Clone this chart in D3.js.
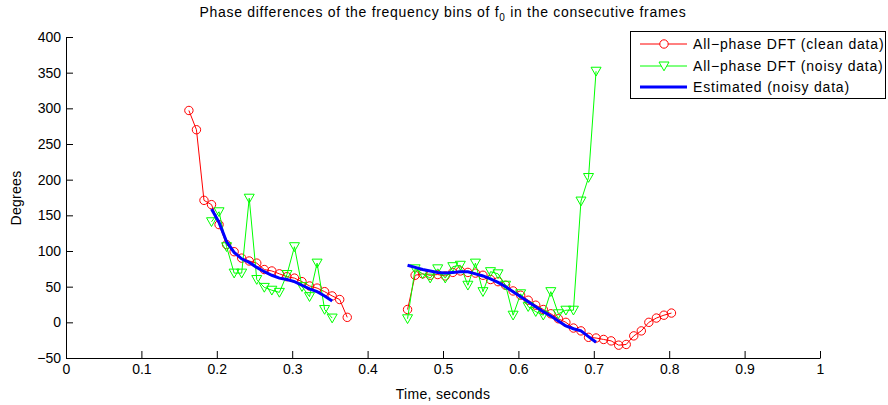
<!DOCTYPE html>
<html>
<head>
<meta charset="utf-8">
<script src="https://cdn.jsdelivr.net/npm/d3@7"></script>
<style>
  body { margin: 0; background: #fff; }
  text { font-family: "Liberation Sans", Arial, Helvetica, sans-serif; }
</style>
</head>
<body>
<div class="chart"></div>
<script>
// frame times (seconds)
let times = [
  0.163, 0.173, 0.183, 0.193, 0.203, 0.213, 0.223, 0.233, 0.243, 0.253,
  0.263, 0.273, 0.283, 0.293, 0.303, 0.313, 0.323, 0.333, 0.343, 0.353,
  0.363, 0.373, 0.383, 0.393, 0.403, 0.413, 0.423, 0.433, 0.443, 0.453,
  0.463, 0.473, 0.483, 0.493, 0.503, 0.513, 0.523, 0.533, 0.543, 0.553,
  0.563, 0.573, 0.583, 0.593, 0.603, 0.613, 0.623, 0.633, 0.643, 0.653,
  0.663, 0.673, 0.683, 0.693, 0.703, 0.713, 0.723, 0.733, 0.743, 0.753,
  0.763, 0.773, 0.783, 0.793, 0.803
];

// All-phase DFT, clean data (degrees)
let cleanData = [
  297, 270, 171, 165, 137, 109, 99, 90, 86, 83,
  74, 72, 68, 64, 62, 57, 51, 48, 43, 37,
  32, 7, null, null, null, null, null, null, null, 18,
  66, 68, 66, 67, 65, 70, 72, 70, 69, 66,
  60, 57, 52, 44, 38, 31, 24, 18, 12, 5,
  0, -8, -12, -21, -22, -24, -26, -32, -31, -19,
  -12, 0, 6, 10, 13
];

// All-phase DFT, noisy data (degrees)
let noisyData = [
  null, null, null, 141, 155, 106, 69, 69, 174, 60,
  49, 45, 42, 67, 106, 50, 36, 83, 18, 6,
  null, null, null, null, null, null, null, null, null, 5,
  75, 68, 62, 75, 62, 78, 80, 52, 83, 43,
  71, 68, 52, 10, 40, 22, 15, 10, 43, 12,
  17, 17, 170, 203, 352, null, null, null, null, null,
  null, null, null, null, null
];

// Estimated from noisy data (degrees)
let estData = [
  null, null, null, 159, 140, 113, 98, 89, 84, 77,
  71, 66, 62, 60, 57, 52, 47, 43, 37, 30,
  null, null, null, null, null, null, null, null, null, 80,
  77, 74, 72, 70, 69, 70, 71, 71, 68, 65,
  61, 56, 50, 43, 36, 29, 22, 15, 9, 2,
  -5, -9, -12, -20, -28, null, null, null, null, null,
  null, null, null, null, null
];

let xTicks = [0, 0.1, 0.2, 0.3, 0.4, 0.5, 0.6, 0.7, 0.8, 0.9, 1];
let yTicks = [-50, 0, 50, 100, 150, 200, 250, 300, 350, 400];

let legendLabels = [
  'All\u2212phase DFT (clean data)',
  'All\u2212phase DFT (noisy data)',
  'Estimated (noisy data)'
];

let canvas = d3.select('.chart')
  .append('svg')
  .attr('width', 888)
  .attr('height', 405);

let x = d3.scaleLinear().domain([0, 1]).range([66, 820]);
let y = d3.scaleLinear().domain([-50, 400]).range([358, 37]);

// axes (box off, ticks pointing inward)
canvas.append('g')
  .attr('transform', 'translate(0,358)')
  .call(d3.axisBottom(x)
    .tickValues(xTicks)
    .tickFormat(d => String(+d.toFixed(1)))
    .tickSizeInner(-7)
    .tickSizeOuter(0)
    .tickPadding(6));

canvas.append('g')
  .attr('transform', 'translate(66,0)')
  .call(d3.axisLeft(y)
    .tickValues(yTicks)
    .tickSizeInner(-7)
    .tickSizeOuter(0)
    .tickPadding(5));

canvas.selectAll('.tick text')
  .attr('font-size', 14)
  .attr('fill', '#000')
  .style('font-family', '"Liberation Sans", Arial, sans-serif');
canvas.selectAll('.domain, .tick line').attr('stroke', '#000');

let points = (vals) => times.map((t, i) => ({ t: t, v: vals[i] }));

let lineFunction = d3.line()
  .defined(d => d.v != null)
  .x(d => x(d.t))
  .y(d => y(d.v));

let plot = canvas.append('g');

// clean data: red line with circles
plot.append('path')
  .attr('d', lineFunction(points(cleanData)))
  .attr('stroke', '#ff0000')
  .attr('stroke-width', 1)
  .attr('fill', 'none');

plot.selectAll('.clean')
  .data(points(cleanData).filter(d => d.v != null))
  .enter()
  .append('circle')
  .attr('cx', d => x(d.t))
  .attr('cy', d => y(d.v))
  .attr('r', 4.2)
  .attr('fill', 'none')
  .attr('stroke', '#ff0000')
  .attr('stroke-width', 1);

// noisy data: green line with down triangles
let tri = 'M-5,-4L5,-4L0,4.8Z';

plot.append('path')
  .attr('d', lineFunction(points(noisyData)))
  .attr('stroke', '#00ff00')
  .attr('stroke-width', 1)
  .attr('fill', 'none');

plot.selectAll('.noisy')
  .data(points(noisyData).filter(d => d.v != null))
  .enter()
  .append('path')
  .attr('d', tri)
  .attr('transform', d => `translate(${x(d.t)},${y(d.v)})`)
  .attr('fill', 'none')
  .attr('stroke', '#00ff00')
  .attr('stroke-width', 1);

// estimate: thick blue line
plot.append('path')
  .attr('d', lineFunction(points(estData)))
  .attr('stroke', '#0000ff')
  .attr('stroke-width', 3)
  .attr('fill', 'none');

// title
let title = canvas.append('text')
  .attr('x', 443)
  .attr('y', 17)
  .attr('text-anchor', 'middle')
  .attr('font-size', 14)
  .attr('letter-spacing', 0.7)
  .attr('fill', '#000');
title.append('tspan').text('Phase differences of the frequency bins of f');
title.append('tspan').attr('font-size', 10).attr('dy', 4).text('0');
title.append('tspan').attr('dy', -4).text(' in the consecutive frames');

canvas.append('text')
  .attr('x', 443)
  .attr('y', 399)
  .attr('text-anchor', 'middle')
  .attr('font-size', 14)
  .attr('letter-spacing', 0.3)
  .text('Time, seconds');

canvas.append('text')
  .attr('transform', 'translate(21,198) rotate(-90)')
  .attr('text-anchor', 'middle')
  .attr('font-size', 14)
  .attr('letter-spacing', 0.3)
  .text('Degrees');

// legend
let legend = canvas.append('g');
legend.append('rect')
  .attr('x', 630.5)
  .attr('y', 31.5)
  .attr('width', 255)
  .attr('height', 67)
  .attr('fill', '#fff')
  .attr('stroke', '#000')
  .attr('stroke-width', 1);

let legendColors = ['#ff0000', '#00ff00', '#0000ff'];
let legendRowY = [44, 66, 87];

legendLabels.forEach((label, i) => {
  let ly = legendRowY[i];
  legend.append('line')
    .attr('x1', 640).attr('x2', 687)
    .attr('y1', ly).attr('y2', ly)
    .attr('stroke', legendColors[i])
    .attr('stroke-width', i == 2 ? 3 : 1);
  if (i == 0) {
    legend.append('circle')
      .attr('cx', 664).attr('cy', ly).attr('r', 4.2)
      .attr('fill', '#fff').attr('stroke', '#ff0000');
  }
  if (i == 1) {
    legend.append('path')
      .attr('d', tri)
      .attr('transform', `translate(664,${ly})`)
      .attr('fill', '#fff').attr('stroke', '#00ff00');
  }
  legend.append('text')
    .attr('x', 693)
    .attr('y', ly + 5)
    .attr('font-size', 14)
    .attr('letter-spacing', 0.8)
    .text(label);
});
</script>
</body>
</html>
